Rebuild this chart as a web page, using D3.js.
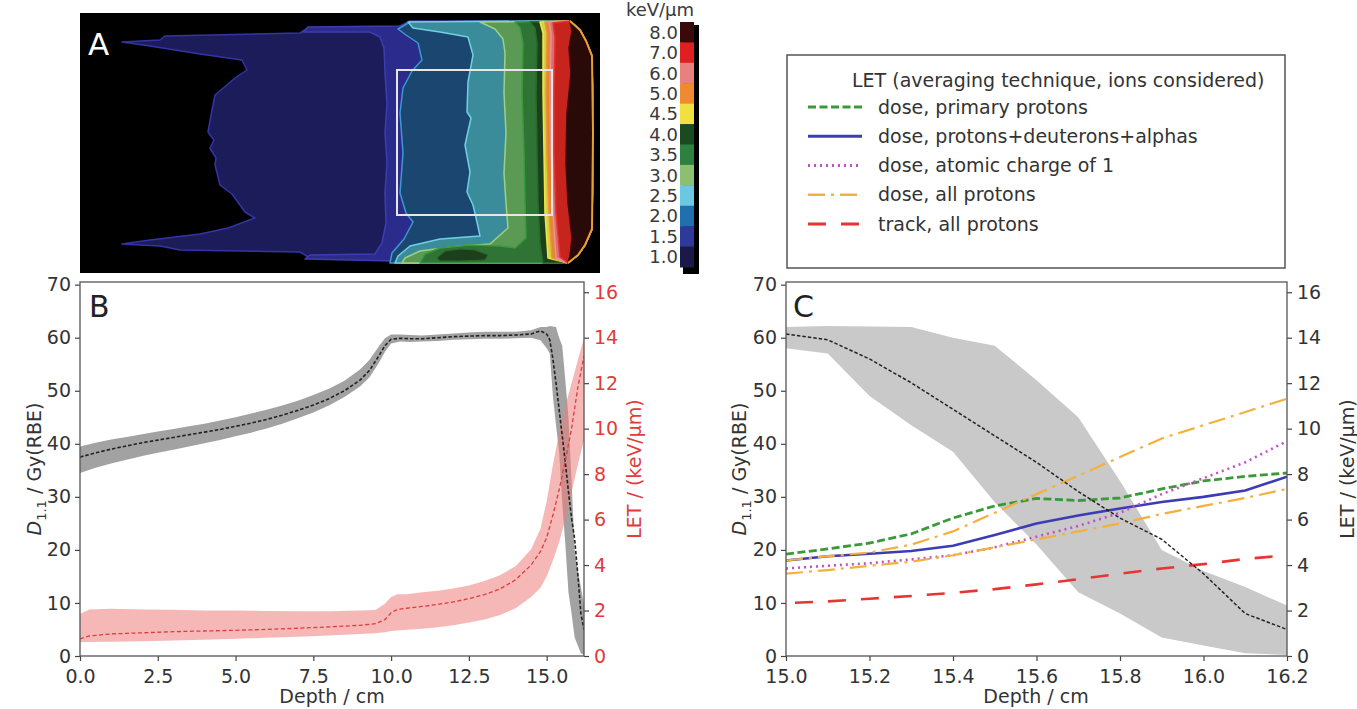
<!DOCTYPE html>
<html>
<head>
<meta charset="utf-8">
<script src="https://d3js.org/d3.v7.min.js"></script>
<style>
body { margin: 0; background: #fff; }
svg { font-family: "DejaVu Sans", sans-serif; }
</style>
</head>
<body>
<script>
// ---------- panel A: LET map (x, y in map units) ----------
var cbLabels = ["8.0", "7.0", "6.0", "5.0", "4.5", "4.0", "3.5", "3.0", "2.5", "2.0", "1.5", "1.0"]
var contourLevels = [1.0, 1.5, 2.0, 2.5, 3.0, 3.5, 4.0, 4.5, 5.0, 6.0, 7.0, 8.0]
var contourPaths = [
    [[49.0,0.8],[33.0,0.9],[32.0,1.4],[22.8,1.5],[22.0,2.0],[8.5,2.3],[8.0,2.7],[4.2,2.9],[7.0,3.3],[12.0,4.1],[16.2,4.7],[16.7,5.7],[15.5,6.5],[13.5,8.2],[13.2,9.7],[12.8,11.9],[13.4,12.7],[13.0,13.5],[13.6,14.5],[13.5,15.2],[14.0,17.2],[15.2,18.1],[16.5,19.9],[17.5,20.5],[14.8,21.5],[12.0,22.1],[7.0,22.7],[4.2,23.1],[8.0,23.3],[10.0,23.7],[22.0,23.9],[23.0,24.5],[31.5,24.7],[32.0,25.0],[48.8,25.0]],
    [[49.0,0.8],[33.0,0.8],[32.0,1.3],[22.8,1.4],[22.3,1.9],[29.0,1.9],[30.0,2.4],[30.4,3.5],[30.5,6.0],[30.7,9.0],[30.5,12.0],[30.7,15.0],[30.5,18.0],[30.6,21.0],[30.2,23.0],[29.5,24.1],[23.0,24.2],[22.5,24.6],[31.5,24.8],[32.0,25.0],[48.8,25.0]],
    [[49.0,0.8],[33.0,0.9],[31.8,1.6],[32.6,2.2],[33.8,3.0],[34.2,4.7],[33.2,5.8],[32.3,7.5],[32.0,10.0],[32.3,14.0],[32.0,18.0],[32.6,20.0],[33.3,20.9],[32.4,22.6],[31.2,24.0],[31.0,25.0],[48.8,25.0]],
    [[49.0,0.8],[32.8,0.9],[33.3,1.5],[36.0,1.9],[38.8,2.4],[39.3,4.2],[38.8,6.9],[38.7,9.9],[39.1,10.5],[38.5,13.2],[39.0,15.9],[38.7,17.9],[39.3,19.2],[39.7,20.9],[40.0,22.3],[36.0,22.6],[33.0,23.3],[31.8,24.3],[31.5,25.0],[48.8,25.0]],
    [[49.0,0.8],[40.0,0.9],[41.5,1.6],[42.3,2.6],[42.5,4.0],[42.4,8.0],[42.6,12.0],[42.4,16.0],[42.6,19.0],[42.8,21.5],[41.0,23.1],[38.0,23.3],[34.0,23.8],[32.5,24.5],[32.2,25.0],[48.8,25.0]],
    [[49.0,0.8],[43.5,0.9],[44.0,1.5],[44.3,3.0],[44.2,8.0],[44.4,14.0],[44.5,19.0],[44.6,22.5],[43.5,23.5],[42.0,23.3],[39.0,23.2],[36.0,23.5],[34.5,24.1],[34.0,25.0],[48.8,25.0]],
    [[49.0,0.8],[45.0,0.9],[45.5,1.5],[45.7,3.0],[45.6,8.0],[45.7,14.0],[45.8,19.0],[46.0,23.0],[46.3,25.0],[48.8,25.0]],
    [[49.0,0.8],[46.0,0.9],[46.3,2.0],[46.3,8.0],[46.4,14.0],[46.5,20.0],[46.8,24.5],[48.8,25.0]],
    [[49.0,0.8],[46.5,0.9],[46.7,2.0],[46.6,8.0],[46.7,14.0],[46.9,20.0],[47.2,24.5],[48.8,25.0]],
    [[49.0,0.8],[46.9,0.9],[47.1,2.0],[47.0,8.0],[47.1,14.0],[47.3,20.0],[47.6,24.5],[48.8,25.0]],
    [[49.0,0.8],[47.3,1.0],[47.5,2.5],[47.4,8.0],[47.4,14.0],[47.6,20.0],[48.0,24.4],[48.8,25.0]],
    [[49.0,0.8],[49.2,1.8],[48.9,3.5],[49.1,6.0],[48.7,10.0],[48.6,15.0],[48.8,19.0],[49.2,22.5],[49.0,24.3],[48.8,25.0]]
]
var islandLevel = 4.0
var islandPath = [[35.7,24.5],[36.5,23.8],[38.0,23.6],[39.5,23.7],[40.8,24.2],[40.5,24.7],[38.0,24.8],[36.0,24.8]]
var fieldEdge = [[49.0,0.8],[50.0,1.7],[50.6,2.8],[51.2,4.3],[51.3,12.0],[51.2,21.6],[50.5,23.2],[49.8,24.2],[48.8,25.0]]
var roiBox = [[31.7, 5.7], [47.2, 20.2]]

// ---------- panel B: depth profiles ----------
var doseDepth = [0, 0.5, 1, 1.5, 2, 2.5, 3, 3.5, 4, 4.5, 5, 5.5, 6, 6.5, 7, 7.5, 8, 8.5, 9, 9.3, 9.6, 9.8, 10, 10.3, 10.6, 11, 11.5, 12, 12.5, 13, 13.5, 14, 14.5, 14.8, 15.0, 15.1, 15.2, 15.3, 15.4, 15.5, 15.6, 15.7, 15.8, 15.9, 16.0, 16.1, 16.2]
var doseMean = [37.5, 38.3, 39.0, 39.6, 40.2, 40.7, 41.2, 41.7, 42.2, 42.7, 43.3, 43.9, 44.6, 45.4, 46.3, 47.3, 48.5, 50.0, 52.0, 53.8, 56.5, 58.5, 59.7, 59.9, 59.8, 59.8, 60.0, 60.2, 60.3, 60.4, 60.4, 60.5, 60.7, 61.3, 60.7, 59.6, 56.0, 51.5, 46.5, 41.5, 36.5, 31.0, 26.0, 22.0, 15.5, 8.0, 5.0]
var doseLow = [34.5, 35.5, 36.3, 37.0, 37.7, 38.3, 38.9, 39.5, 40.1, 40.7, 41.4, 42.1, 42.9, 43.8, 44.8, 45.9, 47.2, 48.8, 50.8, 52.5, 55.2, 57.3, 58.9, 59.3, 59.2, 59.3, 59.4, 59.6, 59.7, 59.8, 59.8, 59.9, 60.0, 59.5, 58.0, 57.0, 49.0, 43.5, 38.5, 29.0, 21.0, 12.0, 8.0, 3.5, 2.0, 0.5, 0.2]
var doseHigh = [39.5, 40.2, 40.8, 41.3, 41.8, 42.3, 42.8, 43.3, 43.8, 44.4, 45.0, 45.7, 46.4, 47.2, 48.1, 49.2, 50.4, 51.9, 54.0, 55.8, 58.3, 59.9, 60.6, 60.6, 60.5, 60.4, 60.6, 60.8, 61.0, 61.1, 61.1, 61.1, 61.4, 62.0, 62.0, 62.2, 62.1, 62.0, 60.0, 58.5, 52.0, 45.0, 33.0, 20.0, 16.0, 13.0, 9.5]

var letDepth = [0, 0.3, 1, 2, 3, 4, 5, 6, 7, 8, 9, 9.5, 9.8, 10, 10.2, 10.5, 11, 11.5, 12, 12.5, 13, 13.5, 14, 14.5, 14.8, 15, 15.2, 15.4, 15.6, 15.8, 16, 16.2]
var letMean = [0.75, 0.88, 0.97, 1.02, 1.07, 1.10, 1.13, 1.17, 1.22, 1.28, 1.35, 1.42, 1.60, 1.90, 2.05, 2.10, 2.18, 2.27, 2.38, 2.52, 2.70, 2.95, 3.35, 4.00, 4.60, 5.20, 6.20, 7.30, 8.60, 10.0, 11.8, 13.2]
var letLow = [0.60, 0.62, 0.63, 0.65, 0.68, 0.72, 0.76, 0.80, 0.85, 0.90, 0.97, 1.00, 1.05, 1.10, 1.12, 1.15, 1.20, 1.27, 1.35, 1.47, 1.60, 1.80, 2.10, 2.60, 3.00, 3.50, 4.20, 5.00, 6.00, 7.20, 8.40, 9.50]
var letHigh = [1.85, 2.05, 2.08, 2.05, 2.03, 2.00, 2.00, 1.98, 1.97, 1.97, 2.00, 2.02, 2.30, 2.60, 2.72, 2.72, 2.80, 2.87, 2.97, 3.10, 3.30, 3.55, 3.95, 4.70, 5.60, 6.80, 8.40, 9.80, 11.0, 12.0, 13.0, 14.0]

// ---------- panel C: LET near the distal edge ----------
var cDepth = [15.0, 15.1, 15.2, 15.3, 15.4, 15.5, 15.6, 15.7, 15.8, 15.9, 16.0, 16.1, 16.2]
var letPrimary = [4.48, 4.71, 4.97, 5.37, 6.07, 6.60, 6.93, 6.84, 6.95, 7.35, 7.70, 7.90, 8.05]
var letPDA = [4.20, 4.39, 4.50, 4.62, 4.85, 5.32, 5.83, 6.18, 6.49, 6.77, 7.00, 7.28, 7.89]
var letZ1 = [3.85, 3.97, 4.08, 4.25, 4.43, 4.78, 5.25, 5.72, 6.30, 7.12, 7.82, 8.52, 9.45]
var letAllProtons = [4.20, 4.39, 4.55, 4.90, 5.48, 6.30, 7.12, 7.93, 8.75, 9.57, 10.15, 10.73, 11.32]
var letAllProtons2 = [3.62, 3.78, 3.97, 4.15, 4.43, 4.78, 5.13, 5.48, 5.83, 6.25, 6.60, 6.95, 7.35]
var letTrack = [2.33, 2.40, 2.52, 2.64, 2.78, 2.94, 3.15, 3.38, 3.62, 3.85, 4.04, 4.27, 4.43]

var legendTitle = "LET (averaging technique, ions considered)"
var legendLabels = ["dose, primary protons", "dose, protons+deuterons+alphas", "dose, atomic charge of 1", "dose, all protons", "track, all protons"]

var xTicksB = [0, 2.5, 5, 7.5, 10, 12.5, 15]
var xTicksC = [15.0, 15.2, 15.4, 15.6, 15.8, 16.0, 16.2]
var yTicksL = [0, 10, 20, 30, 40, 50, 60, 70]
var yTicksR = [0, 2, 4, 6, 8, 10, 12, 14, 16]

// ---------- styles ----------
var levelFill = ["#1c1c5a", "#2b2b8c", "#1b4670", "#3a8c9a", "#5a9a55", "#2f7335", "#1c3f1c", "#d8d040", "#e08a30", "#d87070", "#c8241e", "#2a0a08"]
var levelLine = ["#3434a8", "#3d3db0", "#3a9ad0", "#70d0e0", "#a0d080", "#3a9a40", "#2a6a2a", "#f0e848", "#f09040", "#f09090", "#e83030", "#3a0a0a"]
var cbColor = ["#3a0a0a", "#e02020", "#e88080", "#f08a30", "#f0e040", "#1a4a20", "#2e8040", "#8cc070", "#6ac8e0", "#2070b0", "#2e3a9a", "#1a1a4a"]
var seriesStyle = [
    {color: "#3a9a3a", dash: "8,3.5", width: 2.8},
    {color: "#3c3cb4", dash: null, width: 2.6},
    {color: "#c050c8", dash: "2,4", width: 2.6},
    {color: "#f4b03c", dash: "17,6,3,6", width: 2.2},
    {color: "#e83434", dash: "18,15", width: 2.6}
]

var svg = d3.select("body").append("svg")
    .attr("width", 1357)
    .attr("height", 709)

// ================= panel A =================
var ax = d3.scaleLinear().domain([0, 52]).range([80, 600])
var ay = d3.scaleLinear().domain([0, 26]).range([13, 273])

svg.append("rect")
    .attr("x", ax(0)).attr("y", ay(0))
    .attr("width", ax(52) - ax(0)).attr("height", ay(26) - ay(0))
    .attr("fill", "#000")

var polyLine = d3.line()
    .x(function(d) { return ax(d[0]) })
    .y(function(d) { return ay(d[1]) })
    .curve(d3.curveLinearClosed)
var edgeBack = fieldEdge.slice().reverse()

contourPaths.forEach(function(path, i) {
    svg.append("path")
        .attr("d", polyLine(path.concat(edgeBack)))
        .attr("fill", levelFill[i])
        .attr("stroke", levelLine[i])
        .attr("stroke-width", 1.5)
        .attr("stroke-linejoin", "round")
    if (contourLevels[i] === islandLevel) {
        svg.append("path")
            .attr("d", polyLine(islandPath))
            .attr("fill", levelFill[i])
            .attr("stroke", levelLine[i])
            .attr("stroke-width", 1)
    }
})

svg.append("path")
    .attr("d", d3.line().x(function(d) { return ax(d[0]) }).y(function(d) { return ay(d[1]) })(fieldEdge))
    .attr("fill", "none")
    .attr("stroke", "#e8a030")
    .attr("stroke-width", 2)

svg.append("rect")
    .attr("x", ax(roiBox[0][0])).attr("y", ay(roiBox[0][1]))
    .attr("width", ax(roiBox[1][0]) - ax(roiBox[0][0]))
    .attr("height", ay(roiBox[1][1]) - ay(roiBox[0][1]))
    .attr("fill", "none")
    .attr("stroke", "#e6e6e6")
    .attr("stroke-width", 2)

svg.append("text")
    .attr("x", 88).attr("y", 55)
    .attr("fill", "#fff")
    .style("font-size", "31px")
    .text("A")

// colour bar
var cb = d3.scaleBand().domain(cbLabels).range([22, 267])
svg.append("rect")
    .attr("x", 683).attr("y", 25)
    .attr("width", 16).attr("height", 249)
    .attr("fill", "#000")
svg.selectAll(".cbBin")
    .data(cbLabels)
    .enter()
    .append("rect")
    .attr("x", 680)
    .attr("y", function(d) { return cb(d) })
    .attr("width", 14)
    .attr("height", cb.bandwidth() + 0.5)
    .attr("fill", function(d, i) { return cbColor[i] })
svg.selectAll(".cbLabel")
    .data(cbLabels)
    .enter()
    .append("text")
    .attr("x", 678)
    .attr("y", function(d) { return cb(d) + cb.bandwidth() / 2 })
    .attr("dy", "0.36em")
    .attr("text-anchor", "end")
    .attr("fill", "#3a3a3a")
    .style("font-size", "18px")
    .text(function(d) { return d })
svg.append("text")
    .attr("x", 660).attr("y", 16)
    .attr("text-anchor", "middle")
    .attr("fill", "#3a3a3a")
    .style("font-size", "18px")
    .text("keV/µm")

// ================= panels B and C =================
var yL = d3.scaleLinear().domain([0, 70.5]).range([656, 282])
var yR = d3.scaleLinear().domain([0, 16.45]).range([656, 282])
var xB = d3.scaleLinear().domain([0, 16.2]).range([80, 584])
var xC = d3.scaleLinear().domain([15, 16.2]).range([786, 1287])

var doseData = doseDepth.map(function(d, i) { return {depth: d, mean: doseMean[i], lo: doseLow[i], hi: doseHigh[i]} })
var letData = letDepth.map(function(d, i) { return {depth: d, mean: letMean[i], lo: letLow[i], hi: letHigh[i]} })

var defs = svg.append("defs")
defs.append("clipPath").attr("id", "clipB").append("rect")
    .attr("x", 80).attr("y", 282).attr("width", 504).attr("height", 374)
defs.append("clipPath").attr("id", "clipC").append("rect")
    .attr("x", 786).attr("y", 282).attr("width", 501).attr("height", 374)

function styleAxis(g, color) {
    g.attr("font-size", 19).attr("font-family", "DejaVu Sans")
    g.select(".domain").remove()
    g.selectAll(".tick line").attr("stroke", "#444").attr("stroke-width", 1.2)
    g.selectAll(".tick text").attr("fill", color)
}

function drawFrame(x, rightColor, xTicks) {
    var r = x.range()
    svg.append("g")
        .attr("transform", "translate(0,656)")
        .call(d3.axisBottom(x).tickValues(xTicks).tickFormat(d3.format(".1f")).tickSize(5).tickPadding(9))
        .call(styleAxis, "#333")
    svg.append("g")
        .attr("transform", "translate(" + r[0] + ",0)")
        .call(d3.axisLeft(yL).tickValues(yTicksL).tickSize(5).tickPadding(4))
        .call(styleAxis, "#333")
    svg.append("g")
        .attr("transform", "translate(" + r[1] + ",0)")
        .call(d3.axisRight(yR).tickValues(yTicksR).tickSize(5).tickPadding(5))
        .call(styleAxis, rightColor)
    svg.append("rect")
        .attr("x", r[0]).attr("y", 282)
        .attr("width", r[1] - r[0]).attr("height", 374)
        .attr("fill", "none")
        .attr("stroke", "#555")
        .attr("stroke-width", 1.3)
}

function yLabels(xl, xr, rightColor, mid) {
    var lab = svg.append("text")
        .attr("transform", "translate(" + xl + ",469) rotate(-90)")
        .attr("text-anchor", "middle")
        .attr("fill", "#333")
        .style("font-size", "19px")
    lab.append("tspan").style("font-style", "italic").text("D")
    lab.append("tspan").attr("dy", 5).style("font-size", "13px").text("1.1")
    lab.append("tspan").attr("dy", -5).text(" / Gy(RBE)")
    svg.append("text")
        .attr("transform", "translate(" + xr + ",469) rotate(-90)")
        .attr("text-anchor", "middle")
        .attr("fill", rightColor)
        .style("font-size", "19px")
        .text("LET / (keV/µm)")
    svg.append("text")
        .attr("x", mid).attr("y", 703)
        .attr("text-anchor", "middle")
        .attr("fill", "#333")
        .style("font-size", "19px")
        .text("Depth / cm")
}

// ---- B ----
var gB = svg.append("g").attr("clip-path", "url(#clipB)")
gB.append("path")
    .datum(doseData)
    .attr("d", d3.area().x(function(d) { return xB(d.depth) }).y0(function(d) { return yL(d.lo) }).y1(function(d) { return yL(d.hi) }))
    .attr("fill", "#a2a2a2")
gB.append("path")
    .datum(letData)
    .attr("d", d3.area().x(function(d) { return xB(d.depth) }).y0(function(d) { return yR(d.lo) }).y1(function(d) { return yR(d.hi) }))
    .attr("fill", "#ee7c7c")
    .attr("opacity", 0.55)
gB.append("path")
    .datum(doseData)
    .attr("d", d3.line().x(function(d) { return xB(d.depth) }).y(function(d) { return yL(d.mean) }))
    .attr("fill", "none")
    .attr("stroke", "#222")
    .attr("stroke-width", 1.6)
    .attr("stroke-dasharray", "3.5,2")
gB.append("path")
    .datum(letData)
    .attr("d", d3.line().x(function(d) { return xB(d.depth) }).y(function(d) { return yR(d.mean) }))
    .attr("fill", "none")
    .attr("stroke", "#e03c3c")
    .attr("stroke-width", 1.3)
    .attr("stroke-dasharray", "4,2.5")

drawFrame(xB, "#e03c3c", xTicksB)
yLabels(41, 641, "#e03c3c", 332)
svg.append("text").attr("x", 89).attr("y", 317).attr("fill", "#222").style("font-size", "30px").text("B")

// ---- C ----
var gC = svg.append("g").attr("clip-path", "url(#clipC)")
var doseC = doseData.filter(function(d) { return d.depth >= 15 })
gC.append("path")
    .datum(doseC)
    .attr("d", d3.area().x(function(d) { return xC(d.depth) }).y0(function(d) { return yL(d.lo) }).y1(function(d) { return yL(d.hi) }))
    .attr("fill", "#c9c9c9")

var cSeries = [letPrimary, letPDA, letZ1, letAllProtons, letTrack]
var cLine = d3.line().x(function(d) { return xC(d[0]) }).y(function(d) { return yR(d[1]) })
cSeries.forEach(function(vals, i) {
    var s = seriesStyle[i]
    gC.append("path")
        .datum(cDepth.map(function(d, j) { return [d, vals[j]] }))
        .attr("d", cLine)
        .attr("fill", "none")
        .attr("stroke", s.color)
        .attr("stroke-width", s.width)
        .attr("stroke-dasharray", s.dash)
        .attr("stroke-dashoffset", i === 4 ? 24 : 0)
})
// second all-protons curve, same style
gC.append("path")
    .datum(cDepth.map(function(d, j) { return [d, letAllProtons2[j]] }))
    .attr("d", cLine)
    .attr("fill", "none")
    .attr("stroke", seriesStyle[3].color)
    .attr("stroke-width", seriesStyle[3].width)
    .attr("stroke-dasharray", seriesStyle[3].dash)

gC.append("path")
    .datum(doseC)
    .attr("d", d3.line().x(function(d) { return xC(d.depth) }).y(function(d) { return yL(d.mean) }))
    .attr("fill", "none")
    .attr("stroke", "#222")
    .attr("stroke-width", 1.5)
    .attr("stroke-dasharray", "3.5,2")

drawFrame(xC, "#333", xTicksC)
yLabels(746, 1354, "#333", 1036)
svg.append("text").attr("x", 793).attr("y", 317).attr("fill", "#222").style("font-size", "30px").text("C")

// ---- legend ----
svg.append("rect")
    .attr("x", 787).attr("y", 55)
    .attr("width", 498).attr("height", 213)
    .attr("fill", "#fff")
    .attr("stroke", "#555")
    .attr("stroke-width", 1.5)
svg.append("text")
    .attr("x", 852).attr("y", 80)
    .attr("dy", "0.35em")
    .attr("fill", "#333")
    .style("font-size", "19px")
    .text(legendTitle)
var ly = d3.scalePoint().domain(legendLabels).range([107, 224])
legendLabels.forEach(function(label, i) {
    var s = seriesStyle[i]
    svg.append("line")
        .attr("x1", 808).attr("x2", 862)
        .attr("y1", ly(label)).attr("y2", ly(label))
        .attr("stroke", s.color)
        .attr("stroke-width", s.width + 0.4)
        .attr("stroke-dasharray", s.dash)
    svg.append("text")
        .attr("x", 878).attr("y", ly(label))
        .attr("dy", "0.35em")
        .attr("fill", "#333")
        .style("font-size", "19px")
        .text(label)
})
</script>
</body>
</html>
